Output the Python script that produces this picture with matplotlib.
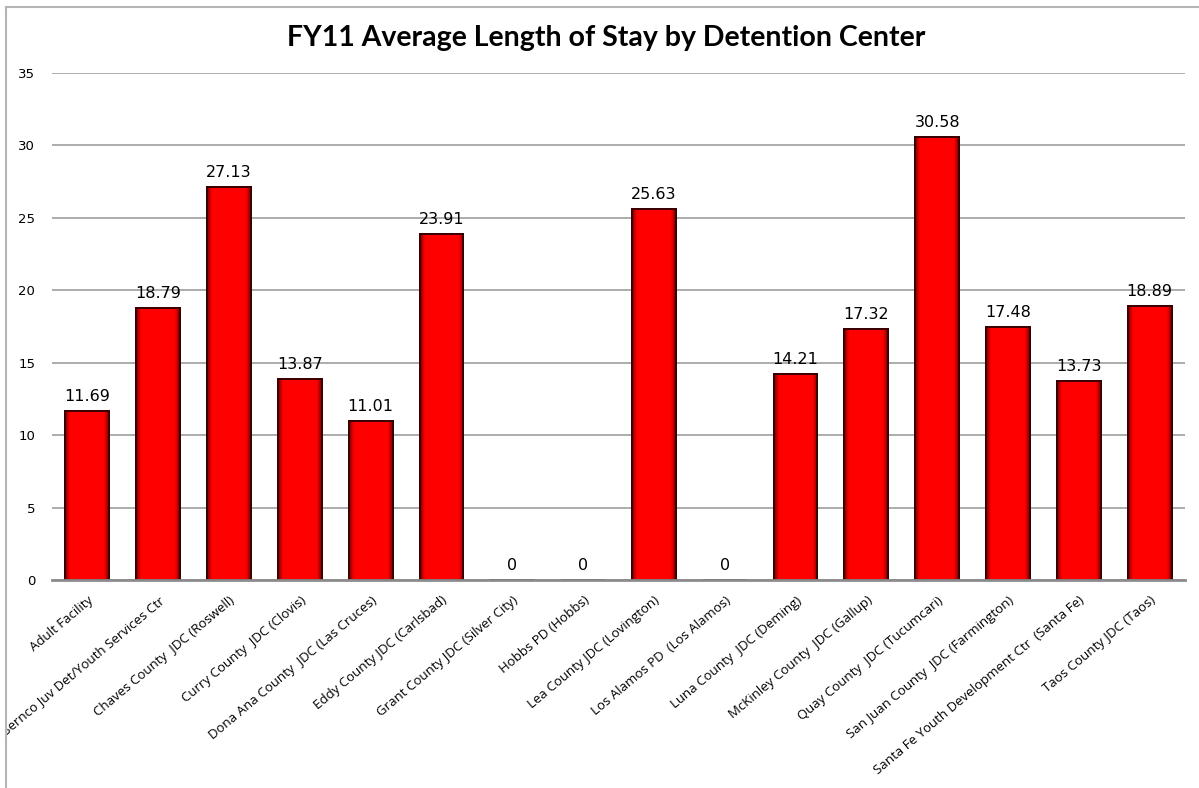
import numpy as np
import matplotlib.pyplot as plt
from matplotlib.lines import Line2D
from matplotlib.patches import Rectangle

plt.rcParams['font.family'] = ['Open Sans', 'DejaVu Sans']

centers = ['Adult Facility', 'Bernco Juv Det/Youth Services Ctr',
           'Chaves County  JDC (Roswell)', 'Curry County  JDC (Clovis)',
           'Dona Ana County  JDC (Las Cruces)', 'Eddy County JDC (Carlsbad)',
           'Grant County JDC (Silver City)', 'Hobbs PD (Hobbs)',
           'Lea County JDC (Lovington)', 'Los Alamos PD  (Los Alamos)',
           'Luna County  JDC (Deming)', 'McKinley County  JDC (Gallup)',
           'Quay County  JDC (Tucumcari)', 'San Juan County  JDC (Farmington)',
           'Santa Fe Youth Development Ctr  (Santa Fe)', 'Taos County JDC (Taos)']
avg_stay = [11.69, 18.79, 27.13, 13.87, 11.01, 23.91, 0, 0, 25.63, 0,
            14.21, 17.32, 30.58, 17.48, 13.73, 18.89]
yticks = [0, 5, 10, 15, 20, 25, 30, 35]

W, H = 1199, 788
fig = plt.figure(figsize=(W / 100, H / 100), dpi=100)
ax = fig.add_axes([52 / W, 1 - 580 / H, (1185 - 52) / W, (580 - 73) / H])

x = np.arange(len(centers))
bars = ax.bar(x, avg_stay, width=0.62, color='#ff0000', edgecolor='#3a0000',
              linewidth=1.4, zorder=3)

# shaded look of the bars: darker towards the sides
t = np.linspace(-1, 1, 60)
shade = 1 - 0.55 * np.clip((np.abs(t) - 0.75) / 0.25, 0, 1) ** 1.5
grad = np.zeros((1, t.size, 3))
grad[0, :, 0] = shade
for b, v in zip(bars, avg_stay):
    if v <= 0:
        continue
    x0 = b.get_x()
    im = ax.imshow(grad, extent=[x0, x0 + b.get_width(), 0, v],
                   aspect='auto', zorder=3.2, interpolation='bilinear')
    im.set_clip_path(b)
    ax.bar(b.get_x() + b.get_width() / 2, v, width=b.get_width(),
           color='none', edgecolor='#3a0000', linewidth=1.4, zorder=3.4)

for b, v in zip(bars, avg_stay):
    ax.annotate(f'{v:g}', (b.get_x() + b.get_width() / 2, v),
                xytext=(0, 5), textcoords='offset points',
                ha='center', va='bottom', fontsize=11.5, family='DejaVu Sans')

ax.set_xlim(-0.5, len(centers) - 0.5)
ax.set_ylim(0, 35)
ax.set_yticks(yticks)
ax.yaxis.grid(True, color='#a6a6a6', linewidth=1.3, zorder=0)
ax.set_axisbelow(True)
for s in ['left', 'right', 'top']:
    ax.spines[s].set_visible(False)
ax.spines['bottom'].set_color('#8c8c8c')
ax.spines['bottom'].set_linewidth(2)
ax.spines['bottom'].set_zorder(5)
ax.tick_params(length=0)
ax.tick_params(axis='y', pad=12, labelsize=9.5)
for t in ax.get_yticklabels():
    t.set_family('DejaVu Sans')
ax.set_xticks(x)
ax.set_xticklabels(centers, rotation=40, ha='right', rotation_mode='anchor',
                   fontsize=9.5)
ax.tick_params(axis='x', pad=10)

clip = Rectangle((7, 0), W, H, transform=None)
for t in ax.get_xticklabels():
    t.set_clip_on(True)
    t.set_clip_path(clip)

fig.text(606 / W, 1 - 38 / H,
         'FY11 Average Length of Stay by Detention Center',
         ha='center', va='center', fontsize=20.5, fontweight='bold', family='Lato')

# chart border
fig.add_artist(Line2D([6 / W, 6 / W], [0, 1 - 7 / H], color='#b5b5b5', lw=1.5))
fig.add_artist(Line2D([6 / W, 1], [1 - 7 / H, 1 - 7 / H], color='#b5b5b5', lw=1.5))

fig.savefig('out.png', dpi=100)
